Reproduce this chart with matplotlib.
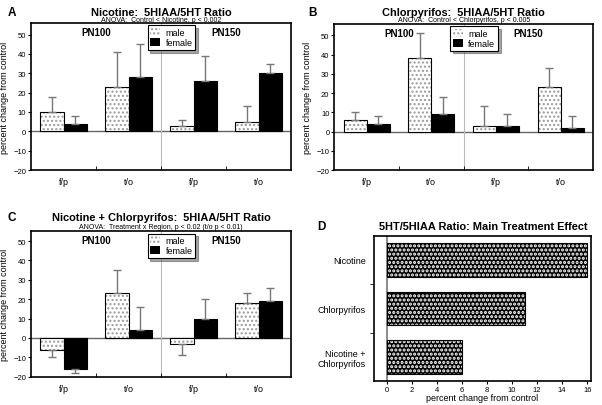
import matplotlib.pyplot as plt
import numpy as np

plt.rcParams['font.family'] = ['Liberation Sans', 'DejaVu Sans']

# regions within each age: f/p, t/o ; ages: PN100, PN150
regions = ['f/p', 't/o', 'f/p', 't/o']

# panel A: nicotine
nic_male = [10, 23, 3, 5]
nic_male_err = [8, 18, 3, 8]
nic_female = [4, 28, 26, 30]
nic_female_err = [4, 17, 13, 5]

# panel B: chlorpyrifos
cpf_male = [6, 38, 3, 23]
cpf_male_err = [4, 13, 10, 10]
cpf_female = [4, 9, 3, 2]
cpf_female_err = [4, 9, 6, 6]

# panel C: nicotine + chlorpyrifos
combo_male = [-6, 23, -3, 18]
combo_male_err = [4, 12, 6, 5]
combo_female = [-16, 4, 10, 19]
combo_female_err = [2, 12, 10, 7]

# panel D: main treatment effect
treatments = ['Nicotine', 'Chlorpyrifos', 'Nicotine +\nChlorpyrifos']
treat_effect = [16, 11, 6]

W, H = 602, 406

def fy(py):
    # pixel row from top -> figure fraction
    return (H - py) / H

panels = [
    ('A', 'Nicotine:  5HIAA/5HT Ratio', 'ANOVA:  Control < Nicotine, p < 0.002',
     nic_male, nic_male_err, nic_female, nic_female_err, 56, 16, 22.5),
    ('B', 'Chlorpyrifos:  5HIAA/5HT Ratio', 'ANOVA:  Control < Chlorpyrifos, p < 0.005',
     cpf_male, cpf_male_err, cpf_female, cpf_female_err, 56, 16, 22.5),
    ('C', 'Nicotine + Chlorpyrifos:  5HIAA/5HT Ratio',
     'ANOVA:  Treatment x Region, p < 0.02 (t/o p < 0.01)',
     combo_male, combo_male_err, combo_female, combo_female_err, 55, 221.5, 229.5),
]
rects = [
    [0.0515, 0.5788, 0.432, 0.362],
    [0.5553, 0.5788, 0.4297, 0.3603],
    [0.0515, 0.0697, 0.432, 0.358],
]
letter_x = [0.012, 0.512, 0.012]

fig = plt.figure(figsize=(6.02, 4.06), dpi=100)

bw = 0.355
x = np.arange(len(regions))
errc = '#777777'

for rect, lx, (letter, title, sub, m, me, f, fe, top, ty, sy) in zip(rects, letter_x, panels):
    ax = fig.add_axes(rect)
    # one-sided error bars, away from zero
    m_lo = [0 if v >= 0 else e for v, e in zip(m, me)]
    m_hi = [e if v >= 0 else 0 for v, e in zip(m, me)]
    f_lo = [0 if v >= 0 else e for v, e in zip(f, fe)]
    f_hi = [e if v >= 0 else 0 for v, e in zip(f, fe)]
    ax.bar(x - bw / 2, m, bw, color='white', edgecolor='#999999', hatch='....',
           linewidth=0, zorder=2)
    ax.bar(x - bw / 2, m, bw, color='none', edgecolor='black', linewidth=0.8,
           yerr=[m_lo, m_hi], ecolor=errc, capsize=3,
           error_kw=dict(elinewidth=1, capthick=1), zorder=3)
    ax.bar(x + bw / 2, f, bw, color='black', edgecolor='black', linewidth=0.8,
           yerr=[f_lo, f_hi], ecolor=errc, capsize=3,
           error_kw=dict(elinewidth=1, capthick=1), zorder=3)
    # legend proxies
    hm = ax.bar([0], [0], 0, color='white', edgecolor='#999999', hatch='....',
                linewidth=0, label='male')
    hf = ax.bar([0], [0], 0, color='black', label='female')
    ax.axhline(0, color='#666666', linewidth=1, zorder=1)
    ax.axvline(1.5, color='#bbbbbb', linewidth=0.8, zorder=1)
    ax.set_xlim(-0.5, 3.5)
    ax.set_ylim(-20, top)
    ax.set_yticks(np.arange(-20, 51, 10))
    ax.set_xticks(x)
    ax.set_xticklabels(regions, fontsize=6.5)
    ax.tick_params(axis='x', length=0, pad=5)
    ax.set_xticks([0.5, 1.5, 2.5], minor=True)
    ax.tick_params(axis='x', which='minor', direction='in', length=3)
    ax.tick_params(axis='y', labelsize=5.5, length=2.5, width=0.8, pad=1)
    for s in ax.spines.values():
        s.set_linewidth(1.2)
    ax.set_ylabel('percent change from control', fontsize=6.5, labelpad=3)
    ax.text(0.5, top - 2, 'PN100', ha='center', va='top', fontsize=7,
            fontweight='bold')
    ax.text(2.5, top - 2, 'PN150', ha='center', va='top', fontsize=7,
            fontweight='bold')
    leg = ax.legend(handles=[hm, hf], loc='upper center', bbox_to_anchor=(0.54, 0.985),
                    fontsize=6.5, frameon=True, fancybox=False, shadow=True,
                    handlelength=1.1, handleheight=1.0, borderpad=0.3,
                    labelspacing=0.1, handletextpad=0.6, borderaxespad=0)
    leg.get_frame().set_edgecolor('black')
    leg.get_frame().set_linewidth(0.8)
    leg.set_zorder(5)
    fig.text(rect[0] + rect[2] / 2, fy(ty), title,
             ha='center', va='baseline', fontsize=7.9, fontweight='bold')
    fig.text(rect[0] + rect[2] / 2, fy(sy), sub,
             ha='center', va='baseline', fontsize=5)
    fig.text(lx, fy(ty), letter, ha='left', va='baseline', fontsize=8.5,
             fontweight='bold')

# panel D
axd = fig.add_axes([0.6213, 0.0584, 0.3605, 0.3586])
yd = np.arange(len(treatments))
plt.rcParams['hatch.linewidth'] = 1.5
axd.barh(yd, treat_effect, 0.7, color='black', edgecolor='white', hatch='....',
         linewidth=0, zorder=2)
axd.barh(yd, treat_effect, 0.7, color='none', edgecolor='black', linewidth=0.8,
         zorder=3)
axd.axvline(0, color='#777777', linewidth=1.2, zorder=1)
axd.set_xlim(-1, 16.3)
axd.set_ylim(2.5, -0.5)
axd.set_xticks(np.arange(0, 17, 2))
axd.set_yticks(yd)
axd.set_yticklabels(treatments, fontsize=6.5)
axd.tick_params(axis='y', length=0, pad=6)
axd.set_yticks([0.5, 1.5], minor=True)
axd.tick_params(axis='y', which='minor', length=3)
axd.tick_params(axis='x', labelsize=5.5, length=2.5, pad=1)
for s in axd.spines.values():
    s.set_linewidth(1.2)
axd.set_xlabel('percent change from control', fontsize=6.5, labelpad=0)
fig.text(0.803, fy(230), '5HT/5HIAA Ratio: Main Treatment Effect',
         ha='center', va='baseline', fontsize=7.9, fontweight='bold')
fig.text(0.527, fy(230), 'D', ha='left', va='baseline', fontsize=8.5,
         fontweight='bold')

fig.savefig('out.png', dpi=100)
